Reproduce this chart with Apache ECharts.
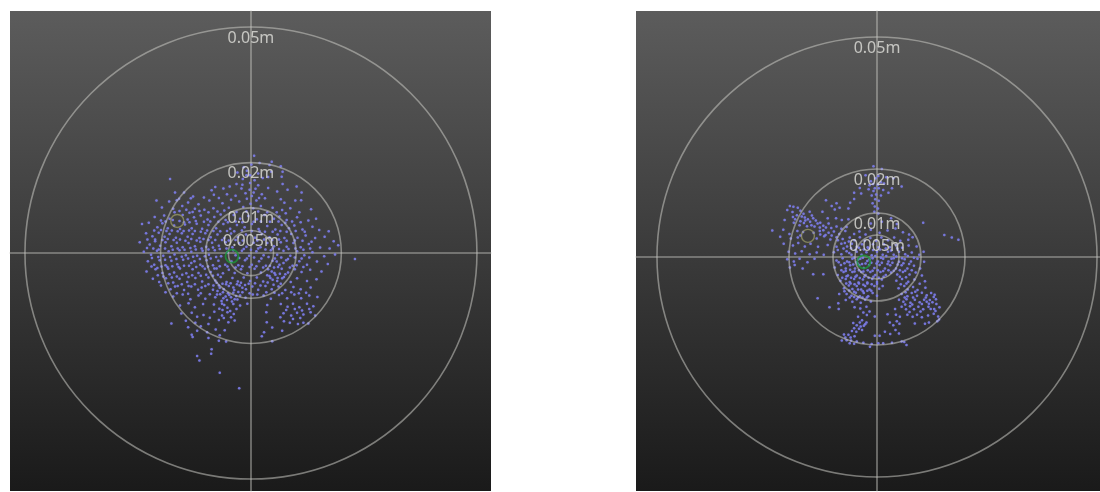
<!DOCTYPE html>
<html>
<head>
<meta charset="utf-8">
<style>
html, body { margin: 0; padding: 0; background: #fff; }
#chart { width: 1100px; height: 492px; }
</style>
<script src="https://cdn.jsdelivr.net/npm/echarts@6/dist/echarts.min.js"></script>
</head>
<body>
<div id="chart"></div>
<script>
// all positions in millimetres, ring labels in metres
const RING_RADII = [5, 10, 20, 50];
const RING_LABELS = ['0.005m', '0.01m', '0.02m', '0.05m'];

const leftGreen = [[-4.2, -0.7]];
const leftYellow = [[-16.3, 7.1]];
const rightGreen = [[-3.0, -1.1]];
const rightYellow = [[-15.7, 4.8]];

const leftPoints = [
    [0.7,21.5],[4.6,20.2],[6.6,19.2],[4.1,19.5],[0.1,19.6],[-1.6,19],[1.9,19.9],
    [-17.9,16.4],[6.8,16.9],[7,15.3],[-0.2,17.2],[1.6,17.6],[3.8,16.8],[-1.8,16.4],[0.8,16.1],[2.6,16.6],[-3,17.8],[4.5,18],[7,18],[-0.9,18.2],
    [-16.8,13.4],[-14.8,13.4],[-12.8,12.5],[-10.4,12.3],[-8.7,13.9],[-6.1,14.3],[-4.7,14.7],[-2.1,14.3],[-0.2,15.5],[1.6,15],[3.8,14.4],[10.1,14.7],[5.8,13.6],[-1.2,13.2],[0.6,13.4],[2.4,13],[-3.2,15.3],[-7.9,14.6],[-5.3,13],[8.1,14],[11.2,13.4],
    [-20.9,11.6],[-16.4,11.7],[-18.1,11.4],[-13.9,11.2],[-11.6,10.8],[-9.2,11.6],[-7.1,12.2],[-6.3,11],[-4.4,11.8],[-2.6,11.4],[-0.9,12],[1.2,11.6],[3.1,12.1],[6.6,11.9],[7.4,11.1],[9.8,11.6],[11.1,11.7],[-15.2,10.4],[-17.2,9.8],[-19.7,10.1],[-12.4,9.8],[-10.3,9.6],[-8.3,9.9],[-4.9,10],[-1.7,10.2],[0.5,9.9],[2.2,10.4],[4.8,10],[6.9,9.5],[8.7,9.9],[13.3,9.7],[-13.6,8.9],
    [-21.3,8],[-19.2,8.3],[-18,7.6],[-15.1,8.4],[-14,7.4],[-12.6,7.9],[-11.1,8.3],[-9.6,7.4],[-8.1,8],[-6.7,8.5],[-5.6,7.3],[-3.8,8.4],[-2.4,7.6],[-0.6,8.2],[1.3,7.5],[3,8.4],[5.1,7.6],[6.3,8.1],[7.9,7.3],[10.2,7.9],[12.7,7.2],[14.4,7.6],
    [-24.1,6.4],[-22.6,6.7],[-20.7,5.7],[-19.6,6.6],[-18.4,5.5],[-17,6.1],[-15.7,5.3],[-14.6,6.3],[-13.1,5.5],[-12,6.5],[-10.8,5.4],[-9.4,6.2],[-7.7,5.5],[-6.1,6.4],[-4.6,5.4],[-3.1,6.2],[-1.4,5.7],[0.2,6.4],[1.7,5.3],[3.6,6],[5.4,5.2],[6.8,6.2],[8.4,5.5],[9.6,6.1],[11.4,5.2],[13.6,5.8],[15.1,5.1],[17.2,4.8],
    [-23.2,4.4],[-21.8,3.7],[-20.4,4.5],[-19.1,3.6],[-18,4.2],[-16.6,3.4],[-15.3,4.4],[-14,3.6],[-12.9,4.2],[-11.4,3.3],[-10.1,4.4],[-8.9,3.5],[-7.4,4.1],[-5.9,3.3],[-4.4,4.3],[-2.9,3.5],[-1.1,4.1],[0.9,3.4],[2.4,4.2],[4.1,3.5],[5.9,4.1],[7.4,3.3],[8.9,4.2],[10.3,3.4],[12.1,3.9],[14.2,3.3],[16.3,3.6],[18.3,2.6],
    [-24.6,2.4],[-22.4,1.9],[-21.2,2.6],[-20.1,1.6],[-18.9,2.4],[-17.6,1.5],[-16.4,2.3],[-15.1,1.3],[-13.8,2.2],[-12.4,1.5],[-11.2,2.5],[-9.9,1.4],[-8.6,2.3],[-7.1,1.6],[-5.6,2.4],[-4.1,1.3],[-2.6,2.2],[-1,1.4],[0.6,2.3],[2.1,1.3],[3.6,2.2],[5.1,1.5],[6.6,2.4],[7.9,1.4],[9.4,2.2],[11,1.3],[12.8,2],[15.3,1.2],[17.4,1],[19.3,1.7],
    [-23.7,0.3],[-22.1,-0.4],[-20.8,0.5],[-19.4,-0.6],[-18.2,0.4],[-16.9,-0.3],[-15.8,0.6],[-14.4,-0.5],[-13.2,0.3],[-11.9,-0.6],[-10.7,0.5],[-9.3,-0.4],[-8,0.6],[-6.6,-0.7],[-5.2,0.2],[-3.4,-0.5],[-2,0.5],[-0.4,-0.6],[1.2,0.4],[2.8,-0.5],[4.4,0.6],[5.8,-0.4],[7.2,0.5],[8.7,-0.6],[10.2,0.4],[11.8,-0.5],[13.6,0.2],[16.2,-0.7],[18.6,-0.3],[23,-1.3],
    [-22.8,-1.8],[-21.4,-2.6],[-20.2,-1.6],[-18.9,-2.7],[-17.6,-1.7],[-16.3,-2.5],[-15,-1.5],[-13.7,-2.8],[-12.5,-1.8],[-11.2,-2.6],[-9.8,-1.6],[-8.4,-2.7],[-7.2,-1.7],[-5.7,-2.6],[-4.3,-1.9],[-2.8,-2.7],[-1.3,-1.6],[0.2,-2.6],[1.8,-1.8],[3.3,-2.8],[4.8,-1.7],[6.3,-2.6],[7.8,-1.6],[9.2,-2.8],[10.7,-1.8],[12.4,-2.6],[14.6,-1.9],[17,-2.4],
    [-23.1,-4.1],[-21.1,-3.6],[-19.6,-4.4],[-18.3,-3.5],[-17,-4.3],[-15.7,-3.4],[-14.3,-4.5],[-12.9,-3.6],[-11.6,-4.4],[-10.2,-3.5],[-8.9,-4.2],[-7.6,-3.4],[-6.2,-4.5],[-4.9,-3.7],[-3.6,-4.4],[-2.2,-3.6],[-0.8,-4.5],[0.8,-3.5],[2.2,-4.3],[3.8,-3.6],[5.2,-4.4],[6.8,-3.5],[8.2,-4.3],[9.7,-3.6],[11.2,-4.2],[13.1,-3.7],[15.6,-4.1],
    [-21.7,-5.7],[-20.3,-6.4],[-18.8,-5.6],[-17.2,-6.5],[-15.8,-5.7],[-14.1,-6.4],[-12.3,-5.5],[-10.8,-6.3],[-9.4,-5.4],[-7.9,-6.1],[-6.7,-5.3],[-5.4,-6.4],[-4.1,-5.5],[-2.9,-6.3],[-1.6,-5.4],[-0.2,-6.2],[1.3,-5.4],[2.7,-6.3],[4.3,-5.5],[5.8,-6.2],[7.3,-5.3],[8.8,-6.4],[10.2,-5.6],[12.4,-6.2],[14.5,-5.8],
    [-19.9,-7.2],[-17.8,-8],[-16.2,-7.3],[-14.8,-8.2],[-13.2,-7.4],[-11.7,-8.1],[-10.1,-7.3],[-8.4,-8.1],[-7.1,-7.2],[-6,-8],[-4.9,-7.3],[-3.7,-8.2],[-2.5,-7.2],[-1.1,-8],[0.3,-7.4],[1.6,-8.1],[3.2,-7.3],[4.6,-8],[6.1,-7.4],[7.6,-8.2],[9.4,-7.5],[11,-8],[13.2,-7.6],[-5.5,-6.9],[-3.1,-6.9],[-1.9,-7.7],
    [-17.2,-9.6],[-15.1,-9.2],[-13.4,-10.2],[-11.6,-9.4],[-10.1,-10.1],[-7.5,-9.2],[-6.1,-10],[-4.8,-9.3],[-3.6,-10.2],[-2.4,-9.4],[-1.2,-9.9],[0.4,-9.2],[2.8,-9.4],[4.4,-10.1],[6.2,-9.3],[8,-10],[9.6,-9.2],[11.1,-10],[12.9,-9.4],[14.7,-9.7],
    [-15.7,-11.6],[-13.8,-11.1],[-12.4,-12],[-10.6,-11.3],[-8.2,-11.4],[-6.4,-11.2],[-5.2,-12.1],[-3.9,-11.3],[-2.4,-11.6],[-0.8,-11.2],[3.6,-11.5],[6.6,-11.3],[8.1,-11.9],[9.3,-11.2],[10.7,-12],[12.4,-11.2],[13.8,-11.8],
    [-15.4,-13.4],[-13.1,-13.2],[-10.5,-13.7],[-8.1,-13],[-6.4,-13.8],[-5.2,-13.1],[-3.8,-13.5],[3.4,-13.1],[7.2,-13.3],[8.9,-13.8],[10.2,-13.2],[11.6,-13.6],[13.2,-13.1],[14.2,-13.8],
    [-17.6,-15.6],[-14.4,-15],[-12.3,-15.4],[-9.4,-15.7],[-7.1,-14.8],[-5,-15.3],[-3.6,-14.9],[3.5,-15.3],[7.3,-15.1],[8.6,-15.4],[10.4,-15.7],[11.6,-15.4],[12.7,-15.6],
    [-13.1,-18.1],[-12.9,-18.6],[-11.9,-17.2],[-9.7,-17.5],[-7.8,-16.9],[-6.9,-18.2],[-5.8,-17.1],[2.9,-17.5],[4.7,-16.5],[6.9,-17.2],
    [-9.4,-18.8],[-7.1,-19.4],[-5.5,-19.6],[4.7,-19.5],[2.4,-18.4],
    [-8.7,-21.3],[-8.8,-22.3],[-11.9,-22.8],[-11.4,-23.8],[-6.9,-26.5],[-2.6,-29.9]
];

// the thick part of the left cloud
const leftDense = [
    [-7.4,-8.4],[-6.8,-9.1],[-6.2,-8.7],[-5.6,-9.6],[-5.1,-8.9],[-4.4,-9.8],[-3.9,-8.8],[-3.3,-9.5],[-2.8,-8.6],[-7.9,-9.8],[-6.5,-10.6],[-5.3,-10.4],[-4.2,-10.7],[-3,-10.3],
    [-8.3,-7.2],[-7.6,-6.6],[-6.9,-7.7],[-6.3,-6.8],[-4.5,-6.7],[-3.9,-7.6],[-2.2,-6.6],[-1.3,-7.1],[-0.5,-6.8],[0.9,-6.7],[2.1,-7.2],[3.7,-6.5],[5,-7],[6.6,-6.8],
    [4.1,-5.1],[4.8,-5.9],[5.4,-4.8],[5.9,-5.5],[6.4,-4.6],[4.6,-4.1],[3.6,-4.9],[6.9,-5.6],[7.6,-4.7],[5.1,-3.2],[6,-3.1],[7.2,-2.2],
    [-20.6,-4.9],[-19.4,-5.2],[-18,-4.7],[-17.5,-5.4],[-16.4,-5.2],[-15.2,-4.8],[-13.8,-5.3],[-13,-4.9],[-11.1,-5],[-9.9,-4.8],[-8.4,-5],[-7.3,-4.8],
    [-22,-3],[-20.7,-3.3],[-19.8,-3],[-18.5,-3.1],[-17.4,-2.9],[-16,-3.1],[-14.8,-2.8],[-13.2,-2.2],[-12.1,-3.1],[-10.7,-2.9],[-9.5,-3],[-8.1,-3.4],[-6.9,-2.9],[-5.2,-3],[-3.4,-3.2],[-1.9,-2.9],[-0.3,-3.1],[1.2,-2.9],[2.7,-3.2],[4.2,-2.8],[5.7,-1.9],[8.6,-3.2],[10.1,-2.7],[11.6,-3.1],
    [-21.9,-1.1],[-20.5,-0.9],[-19,-1.5],[-17.9,-0.9],[-16.5,-1.3],[-15.3,-0.8],[-13.9,-1.2],[-12.8,-0.8],[-11.3,-1.3],[-10.2,-0.7],[-8.9,-1.2],[-7.7,-0.9],[-2.6,-1.1],[-0.9,-1.2],[0.7,-1],[2.3,-1.2],[3.9,-0.9],[5.3,-1.2],[6.7,-1],[8.2,-1.3],[9.7,-1],[11.2,-1.2],[12.9,-1],
    [-23,1.1],[-21.6,1],[-20.4,0.8],[-19,1],[-17.3,0.7],[-16.2,1],[-14.7,0.7],[-13.4,1.1],[-12.2,0.8],[-10.9,1],[-9.4,0.8],[-8.4,1.2],[-6.9,0.9],[-5.4,1],[-3.9,0.6],[-1.6,0.9],[0,0.7],[1.6,1],[3.2,0.8],[4.8,1],[6.2,0.9],[8.3,0.9],[9.8,1],[11.6,0.7],[13.1,1],
    [-22.9,3],[-21.2,3],[-19.6,2.9],[-18.4,3.1],[-17.1,2.9],[-15.7,3],[-14.5,2.7],[-13.2,3.1],[-12,2.8],[-10.5,3.1],[-9.4,2.9],[-7.9,2.9],[-6.4,2.9],[-4.9,2.8],[-3.4,2.9],[-1.8,2.8],[1.4,2.8],[2.9,3],[4.7,2.9],[6.2,3],[7.9,2.7],[9.7,2.8],[11.4,2.7],[13.4,2.5],
    [-21.4,5],[-19.9,5.1],[-18.7,4.9],[-17.5,5],[-16.2,4.8],[-14.9,4.9],[-13.7,5],[-12.4,4.9],[-11.1,4.7],[-9.7,5],[-8.3,4.9],[-6.8,4.8],[-5.3,4.9],[-3.7,4.8],[-2,5],[0.2,4.9],[1.9,4.8],[3.1,4.7],[4.8,4.7],[6.5,4.9],[7.9,4.7],[9.9,4.9],[11.9,4.7],
    [-19.9,7.2],[-18.9,7],[-17.3,7.3],[-15.8,7.1],[-14.8,6.8],[-13.6,6.8],[-12.2,7.1],[-10.4,6.9],[-9,7],[-7.2,6.9],[-5.1,6.8],[-3.4,7],[-1.9,6.8],[0.6,6.9],[2.2,7],[4.2,6.9],[6.1,7],[7.6,6.7],[9.1,7],[11,6.8],
    [-16.9,9],[-15.8,9.3],[-14.3,9.6],[-12.9,9.1],[-11.4,9.3],[-9.4,9],[-7.4,9.2],[-5.9,9.4],[-3.2,9.1],[-1,9.2],[1.6,9.2],[3.6,9],[5.7,9],[7.7,8.8],[10.7,9],
    [-15.9,12],[-13.3,12.1],[-8.2,12.9],[-3.4,12.7],[-0.3,14],[1,14.2],[-1.9,15.1],[0.2,12.6],[1.8,12.2],[-0.1,10.9],[-1,17.2],
    [-18.3,-6.7],[-16.8,-7.4],[-15.3,-6.9],[-13.8,-7.3],[-12.4,-6.9],[-10.9,-7.6],[-9.4,-6.9],[-18.9,-8.7],[-16.4,-8.9],[-13.9,-9],[-11.1,-8.9],[-9.1,-9.1],[-1.9,-8.7],[-0.3,-8.9],[1.4,-9.2],[3.4,-8.7],[5.2,-8.8],[6.9,-8.9],[8.9,-8.7],[10.6,-8.9],[12.2,-8.8],
    [-7,-12.3],[-5.9,-11.5],[-4.6,-12.8],[-6.3,-12.6],[-3.2,-12.4],[7.8,-12.6],[9.7,-12.4],[11.3,-12.7],[12.9,-12.4],[9.3,-14.6],[10.9,-14.4],[6.5,-14.2],[-6,-14.4],[-4.4,-14.2],[-9.1,-14.3],[-11.9,-14.1],[-13.9,-16.4],[-11.1,-16.2]
];

const rightPoints = [
    [-0.8,20.6],[1.1,20],[-2.6,18.6],[0.3,18.4],[2.1,18.1],[3.7,17.9],[-1.4,17.2],[0.9,17],[5.6,16],[-3.9,15.7],
    [-0.8,15],[0.4,15.6],[-1.9,15.4],[1.4,15.2],[2.6,14.6],[3.4,15.6],[-3.6,14.4],[-0.2,14.2],[-1.2,14],[0.9,14],[-5.2,14.6],
    [-0.4,13.1],[0.4,12.8],[-1,12.2],[-0.5,11.5],[0.2,11],[-9.2,12.2],[-10.3,11.6],[-8.5,11.2],[-9.6,10.8],[-11.6,12.9],[-6.1,12.3],[-6.5,11],[-5.2,13.2],[-0.6,10.3],[0.3,9.9],
    [-19.8,11.6],[-19,11.4],[-18,11.2],[-20.4,10.7],[-17.4,10.5],[-19.2,10.2],[-16.7,9.8],[-15.3,10.3],[-18.2,9.5],[-16.4,9],[-14.8,9.4],[-12.4,10.3],
    [-21,8.4],[-18.6,8.6],[-17.4,8.1],[-16.3,8.3],[-15.2,8],[-14.5,8.8],[-13.5,7.6],[-11.2,8.8],[-9.3,8.8],[-8,8.4],[-6.5,8.6],[10.5,7.8],[-17.6,7.2],[-15.9,7],[-14.2,6.9],[-12.2,7.1],[-11,7.6],[3.2,8.8],[-1.4,7.6],[1.1,8],[4.5,7.5],
    [-23.8,6],[-21.3,6.2],[-18.1,5.9],[-16.8,5.7],[-14.4,5.5],[-13,5.9],[-12.2,6.1],[-11,5.5],[-9.8,5.8],[-8.6,5.2],[-7.2,5.9],[-5.2,5.2],[-4,5.8],[-2.6,5.1],[-1.4,6.2],[0.6,5.5],[2.4,6],[4.2,6.5],[5.9,5.6],[7.3,5.1],[15.3,5],
    [-22,4.6],[-19.6,4.2],[-18,4.4],[-13.7,4.2],[-12,4.7],[-10.6,4],[-9.2,4.5],[-7.8,4.1],[-6.2,4.4],[-5.1,3.8],[-3.9,4.5],[-2.8,3.7],[-1.5,4.3],[-0.2,3.7],[1,4.4],[2.5,3.8],[3.9,4.4],[5.3,3.7],[7.1,3.9],[8.1,4.5],[17,4.4],[18.5,3.9],
    [-21.2,3],[-19.1,2.6],[-17.9,3.2],[-16.4,2.4],[-15.1,3],[-13.4,2.3],[-11.2,2.7],[-9.2,2.3],[-8.1,3],[-6.8,2.4],[-5.7,3],[-4.6,2.3],[-3.4,2.9],[-2.1,2.2],[-0.9,2.9],[0.3,2.2],[1.6,2.9],[2.9,2.2],[4.3,2.7],[5.7,2.1],[7.2,2.6],[9,2.4],
    [-20.1,1.2],[-18.6,0.8],[-17.1,1.3],[-15.3,0.6],[-13.7,1],[-12.1,0.5],[-9.8,1.1],[-8.1,0.6],[-6.9,1.3],[-5.8,0.5],[-4.6,1.2],[-3.5,0.5],[-2.4,1.1],[-1.2,0.4],[0,1.2],[1.3,0.5],[2.5,1.2],[3.8,0.5],[5,1.2],[6.4,0.6],[7.9,1],[9.6,0.5],[10.6,1.2],
    [-20.4,-0.5],[-18.9,-1],[-17.6,-0.4],[-15.8,-1.2],[-14.2,-0.4],[-9.2,-0.8],[-7.8,-0.3],[-6.8,-1],[-5.6,-0.4],[-4.7,-1.2],[-3.8,-0.4],[-2.2,-0.9],[-1,-0.3],[0.2,-1],[1.4,-0.4],[2.6,-1],[3.8,-0.3],[5,-1.1],[6.3,-0.5],[7.7,-1],[9.2,-0.4],[10.7,-1.1],
    [-19.8,-2.4],[-18.7,-1.8],[-16.9,-2.6],[-14.5,-3.9],[-12.2,-3.9],[-9.6,-2.4],[-8.2,-1.8],[-7.1,-2.6],[-6.1,-1.9],[-5,-2.6],[-4,-1.8],[-3,-2.5],[-1.8,-1.8],[-0.6,-2.5],[0.6,-1.8],[1.8,-2.6],[3,-1.9],[4.3,-2.6],[5.6,-1.9],[6.9,-2.6],[8.4,-2],[9.8,-2.6],
    [-8.9,-4.1],[-7.6,-3.4],[-6.6,-4.2],[-5.6,-3.4],[-4.6,-4.2],[-3.6,-3.4],[-2.6,-4.1],[-1.5,-3.4],[-0.4,-4.1],[0.8,-3.4],[2,-4.1],[3.2,-3.5],[4.6,-4],[5.9,-3.4],[7.4,-4],[8.8,-3.5],[10.2,-4.2],
    [-8.3,-5.4],[-7.1,-5],[-6.2,-5.7],[-5.2,-5],[-4.2,-5.8],[-3.2,-5.1],[-2.2,-5.8],[-1.1,-5],[0,-5.7],[1.1,-5.1],[4.4,-5.4],[5.7,-5],[7.1,-5.6],[8.5,-5.1],[10.9,-5.5],
    [-7.5,-7.1],[-6.4,-6.5],[-5.6,-7.3],[-4.6,-6.6],[-3.6,-7.4],[-2.7,-6.6],[-1.7,-7.4],[-0.6,-6.6],[0.5,-7.2],[1.3,-6.6],[4.9,-7.1],[6.2,-6.6],[7,-7.4],[8.2,-6.8],[9.2,-7.5],[11,-7],
    [-8.6,-8.4],[-6.9,-8.4],[-5.8,-8.8],[-4.8,-8.1],[-3.9,-8.9],[-3,-8.2],[-2,-8.9],[-1,-8.2],[0,-8.8],[5.6,-8.4],[6.9,-8.9],[7.9,-8.2],[9.1,-8.8],[10.2,-8.1],[11.3,-8.7],[12.3,-8.2],[12.9,-9.1],
    [-13.5,-9.4],[-8.8,-10.5],[-7.1,-9.8],[-5.6,-10.2],[-4.6,-9.6],[-3.7,-10.4],[-2.7,-9.7],[-1.4,-10.1],[5,-9.7],[6,-10.2],[6.7,-9.6],[7.6,-10.4],[8.6,-9.7],[9.7,-10.3],[10.7,-9.7],[11.3,-10.2],[12,-9.8],[12.6,-10.3],[13.4,-9.6],
    [-10.8,-11.4],[-8.7,-11.8],[-5.1,-11.4],[-3.8,-11.7],[-2.4,-11.3],[4.1,-11.8],[5.6,-11.3],[6.6,-11.9],[7.5,-11.2],[8.4,-11.9],[9.4,-11.3],[10.5,-11.9],[11.7,-11.3],[13,-11.8],[14.2,-11.4],
    [-2.3,-13.2],[-3.1,-12.6],[-1.7,-12.4],[-4.3,-13.6],[-0.5,-13.5],[2.4,-13],[4.3,-13.1],[5.2,-13.6],[6.9,-13.1],[8.1,-13.6],[9.1,-13.1],[10.2,-13.7],[11.6,-13.3],[12.9,-12.9],[13.9,-13.5],[14.1,-14.2],[13.7,-14.6],
    [-3.4,-14.4],[-2.4,-14.9],[-4.6,-15.5],[-3.7,-15.8],[-2.7,-15.3],[-5.4,-15],[3.7,-15.5],[4.5,-14.6],[5.1,-15.2],[2.9,-14.9],[8.6,-15.1],[10.9,-15.2],[11.8,-14.9],
    [-6.5,-17.7],[-5.7,-16.8],[-4.7,-17],[-3.4,-16.6],[-5.1,-18],[1.8,-17],[3,-17.5],[4.2,-16.6],[5,-17.4],[-0.5,-17.9],[0.6,-17.9],
    [-8,-19],[-7.2,-18.3],[-6.9,-18.9],[-6.2,-19.6],[-5.2,-19.7],[-4.6,-19.2],[-3.1,-19.5],[-1.6,-20.4],[-1.2,-19.8],[0.3,-19.6],[1.4,-19.6],[3.4,-19.5],[5.6,-19.2],[6.2,-19.3],[6.7,-20]
];

// the thick part of the right cloud
const rightDense = [
    [-0.3,17.9],[-0.9,16.6],[0.2,16.4],[-1.7,16.3],[1.6,16.7],[-0.5,15.6],
    [-19.1,9.1],[-17.1,9.2],[-15.7,8.6],[-13.9,8.3],[-12.9,7.8],[-18.9,7.8],[-16.6,7.7],[-14.9,7.2],[-13,6.7],[-11.6,6.7],[-10.4,6.6],[-9.2,6.9],[-8.1,6.4],[-6.9,6.8],
    [-19.9,5.2],[-17.4,4.9],[-12.9,5.1],[-11.7,5],[-10.3,4.9],[-8.9,3.8],[-7.3,3.2],[-6.4,3.5],
    [-5.9,2],[-4.9,1.6],[-4.1,2.1],[-3,1.7],[-1.9,2],[-0.9,1.6],[0.7,1.7],[2,1.9],[3.2,1.5],[4.6,1.9],
    [-8.9,1.6],[-7.6,1.9],[-6.3,0.9],[-5.2,-0.2],[-4.3,-0.6],[-3.2,-0.2],[-1.7,-0.5],[-0.4,0.2],[0.9,-0.2],[2.1,0.2],[3.3,-0.4],[4.4,0.1],[5.7,-0.3],[7,0.2],[8.4,-0.2],
    [-8.7,-1.2],[-7.4,-1.4],[-6.3,-1.2],[-5.4,-1.7],[-4.4,-1.5],[-3.4,-1.6],[-2.6,-1.5],[-1.3,-1.3],[-0.1,-1.5],[1.1,-1.3],[2.4,-1.6],[3.5,-1.3],[4.7,-1.7],[6,-1.4],[7.3,-1.6],
    [-8.1,-3],[-7.1,-3.2],[-6.1,-2.9],[-5.1,-3.3],[-4.1,-3],[-3.1,-3.3],[-2.1,-3],[-1,-3.1],[0.2,-3],[1.4,-3.2],[2.6,-3],[3.8,-3.1],[5.2,-3],[6.4,-3.1],[7.9,-3],
    [-7.9,-4.7],[-6.9,-4.4],[-5.9,-4.7],[-4.9,-4.5],[-3.9,-4.8],[-2.9,-4.5],[-1.9,-4.7],[-0.8,-4.5],[0.4,-4.7],[1.5,-4.5],[5.2,-4.5],[6.6,-4.6],
    [-7,-6],[-6,-6],[-5.1,-6.2],[-4.1,-6],[-3.1,-6.3],[-2.2,-6],[-1.2,-6.2],[0,-6.1],[5.4,-6.2],[6.7,-6],[9.7,-6.1],
    [-7.4,-7.8],[-6.3,-7.6],[-5.2,-7.9],[-4.3,-7.4],[-3.2,-7.8],[-2.2,-7.7],[-1.3,-7.7],[6.5,-8],[8.7,-7.9],
    [-6.2,-9.2],[-5.2,-9.1],[-4.3,-9.2],[-3.3,-9.2],[-2.3,-9.2],[6.3,-9.2],[8.2,-9.2],[11.1,-9.2],[13.1,-8.6],
    [6.4,-10.8],[8,-10.8],[10.2,-10.7],[11.8,-10.6],[13.5,-10.7],[12.2,-11.8],[9.9,-12.4],[7.4,-12.5],[13.3,-12.3],
    [-3.9,-14.9],[-3,-15.6],[-4.1,-16.3],[-5.2,-16.2],[-6,-18.3],[-7.5,-17.6],[-5.9,-19]
];

// panel rectangle and the millimetre range it shows
const leftRange = { left: 10, width: 481, xMin: -53.3, xMax: 53.1, yMin: -52.65, yMax: 53.55 };
const rightRange = { left: 636, width: 464, xMin: -54.77, xMax: 50.68, yMin: -53.18, yMax: 55.9 };

function panelBg() {
    return new echarts.graphic.LinearGradient(0, 0, 0, 1, [
        { offset: 0, color: '#5c5c5c' },
        { offset: 1, color: '#1a1a1a' }
    ]);
}

function renderRing(params, api) {
    const i = api.value(0);
    const c = api.coord([0, 0]);
    const top = api.coord([0, RING_RADII[i]]);
    const r = c[1] - top[1];
    return {
        type: 'group',
        children: [{
            type: 'circle',
            shape: { cx: c[0], cy: c[1], r: r },
            style: { fill: 'transparent', stroke: 'rgba(200,200,195,0.55)', lineWidth: 1.6 }
        }, {
            type: 'text',
            x: c[0],
            y: top[1] + 11,
            style: {
                text: RING_LABELS[i],
                fill: 'rgba(225,225,220,0.8)',
                font: '16px "Noto Sans", sans-serif',
                align: 'center',
                verticalAlign: 'middle'
            }
        }]
    };
}

function makeAxis(min, max) {
    return {
        type: 'value',
        min: min,
        max: max,
        axisLine: { show: true, onZero: true, lineStyle: { color: 'rgba(200,200,195,0.55)', width: 1.6 } },
        axisTick: { show: false },
        axisLabel: { show: false },
        splitLine: { show: false }
    };
}

function makeSeries(index, points, green, yellow) {
    return [{
        type: 'scatter',
        xAxisIndex: index,
        yAxisIndex: index,
        data: points,
        symbolSize: 2.5,
        silent: true,
        large: false,
        itemStyle: { color: '#7c7ceb', opacity: 0.85, shadowBlur: 1, shadowColor: 'rgba(124,124,235,0.6)' },
        z: 3
    }, {
        type: 'custom',
        xAxisIndex: index,
        yAxisIndex: index,
        data: RING_RADII.map((r, i) => [i]),
        renderItem: renderRing,
        silent: true,
        z: 4
    }, {
        type: 'scatter',
        xAxisIndex: index,
        yAxisIndex: index,
        data: green,
        symbolSize: 13,
        silent: true,
        itemStyle: { color: 'transparent', borderColor: '#1c9a3a', borderWidth: 1.8 },
        z: 5
    }, {
        type: 'scatter',
        xAxisIndex: index,
        yAxisIndex: index,
        data: yellow,
        symbolSize: 13,
        silent: true,
        itemStyle: { color: 'transparent', borderColor: 'rgba(170,170,110,0.8)', borderWidth: 1.4 },
        z: 5
    }];
}

const chart = echarts.init(document.getElementById('chart'), null, { renderer: 'canvas' });

chart.setOption({
    animation: false,
    backgroundColor: '#ffffff',
    grid: [leftRange, rightRange].map(p => ({
        left: p.left,
        top: 11,
        width: p.width,
        height: 480,
        show: true,
        backgroundColor: panelBg(),
        borderWidth: 0
    })),
    xAxis: [makeAxis(leftRange.xMin, leftRange.xMax), Object.assign(makeAxis(rightRange.xMin, rightRange.xMax), { gridIndex: 1 })],
    yAxis: [makeAxis(leftRange.yMin, leftRange.yMax), Object.assign(makeAxis(rightRange.yMin, rightRange.yMax), { gridIndex: 1 })],
    series: makeSeries(0, leftPoints.concat(leftDense), leftGreen, leftYellow).concat(makeSeries(1, rightPoints.concat(rightDense), rightGreen, rightYellow))
});
</script>
</body>
</html>
